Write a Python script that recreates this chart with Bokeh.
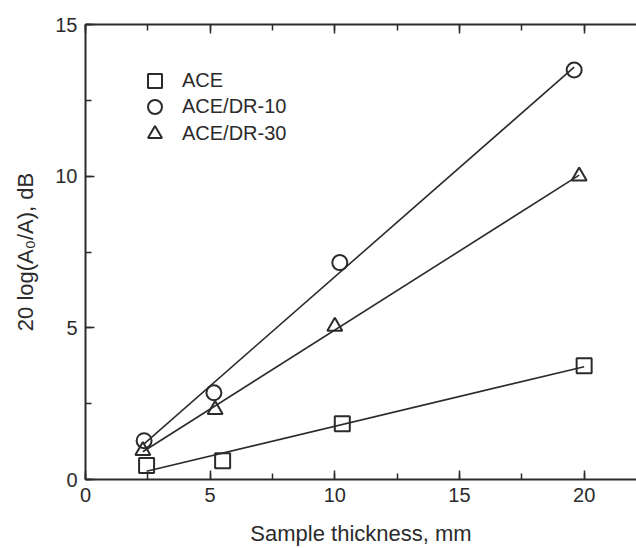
import numpy as np
from bokeh.plotting import figure
from bokeh.models import LinearAxis, Range1d, Legend, LegendItem, FixedTicker
from bokeh.embed import file_html
from bokeh.resources import INLINE

# ---- data ----
series_names = ["ACE", "ACE/DR-10", "ACE/DR-30"]
ace_x = [2.45, 5.5, 10.3, 20.0]
ace_y = [0.46, 0.62, 1.84, 3.75]
dr10_x = [2.35, 5.15, 10.2, 19.6]
dr10_y = [1.28, 2.86, 7.15, 13.5]
dr30_x = [2.3, 5.2, 10.0, 19.8]
dr30_y = [0.95, 2.3, 5.05, 10.0]
x_ticks = [0, 5, 10, 15, 20]
y_ticks = [0, 5, 10, 15]

INK = "#2b2b2b"
FONT = "Liberation Sans"

p = figure(width=636, height=548, output_backend="svg", toolbar_location=None,
           x_range=Range1d(0, 22.1), y_range=Range1d(0, 15),
           x_axis_location=None, y_axis_location=None,
           min_border_left=85, min_border_right=0, min_border_top=24, min_border_bottom=68)
p.outline_line_color = None
p.xgrid.visible = False
p.ygrid.visible = False
p.background_fill_color = "white"
p.border_fill_color = "white"


def style_axis(ax, labels=True):
    ax.axis_line_color = INK
    ax.axis_line_width = 2
    ax.major_tick_line_color = INK
    ax.minor_tick_line_color = INK
    ax.major_tick_line_width = 1.5
    ax.minor_tick_line_width = 1.5
    ax.major_tick_in = 9
    ax.major_tick_out = 0
    ax.minor_tick_in = 6
    ax.minor_tick_out = 0
    ax.major_label_text_font = FONT
    ax.major_label_text_font_size = "20px"
    ax.major_label_text_color = INK
    ax.axis_label_text_font = FONT
    ax.axis_label_text_font_size = "22px"
    ax.axis_label_text_font_style = "normal"
    ax.axis_label_text_color = INK
    if not labels:
        ax.major_label_text_font_size = "0px"
        ax.major_label_text_alpha = 0


xb = LinearAxis(ticker=FixedTicker(ticks=x_ticks, minor_ticks=list(np.arange(0, 22.6, 2.5))),
                axis_label="Sample thickness, mm")
style_axis(xb)
xb.major_label_standoff = 8
xb.axis_label_standoff = 16
p.add_layout(xb, "below")

xt = LinearAxis(ticker=FixedTicker(ticks=x_ticks, minor_ticks=list(np.arange(0, 22.6, 2.5))))
style_axis(xt, labels=False)
p.add_layout(xt, "above")

yl = LinearAxis(ticker=FixedTicker(ticks=y_ticks, minor_ticks=list(np.arange(0, 15.1, 2.5))),
                axis_label="20 log(A\u2080/A), dB")
style_axis(yl)
yl.major_label_standoff = 8
yl.axis_label_standoff = 14
p.add_layout(yl, "left")

# ---- linear fits computed from the data ----
legend_rows_bottom = [381, 355, 328]  # screen offsets of each legend row (layout)
for i, (xs, ys, marker, name) in enumerate([(ace_x, ace_y, "square", series_names[0]),
                                            (dr10_x, dr10_y, "circle", series_names[1]),
                                            (dr30_x, dr30_y, "triangle", series_names[2])]):
    k, b = np.polyfit(xs, ys, 1)
    fx = [xs[0], xs[-1]]
    fy = [k * xs[0] + b, k * xs[-1] + b]
    p.line(fx, fy, line_color=INK, line_width=1.6)
    r = p.scatter(xs, ys, marker=marker, size=15, fill_color=None,
                  line_color=INK, line_width=2)
    lg = Legend(items=[LegendItem(label=name, renderers=[r])],
                location=(52, legend_rows_bottom[i]))
    lg.background_fill_alpha = 0
    lg.border_line_color = None
    lg.label_text_font = FONT
    lg.label_text_font_size = "20px"
    lg.label_text_color = INK
    lg.glyph_width = 35
    lg.glyph_height = 35
    lg.label_standoff = 10
    lg.padding = 0
    lg.margin = 0
    p.add_layout(lg, "center")

open("out.html", "w").write(file_html(p, INLINE))
